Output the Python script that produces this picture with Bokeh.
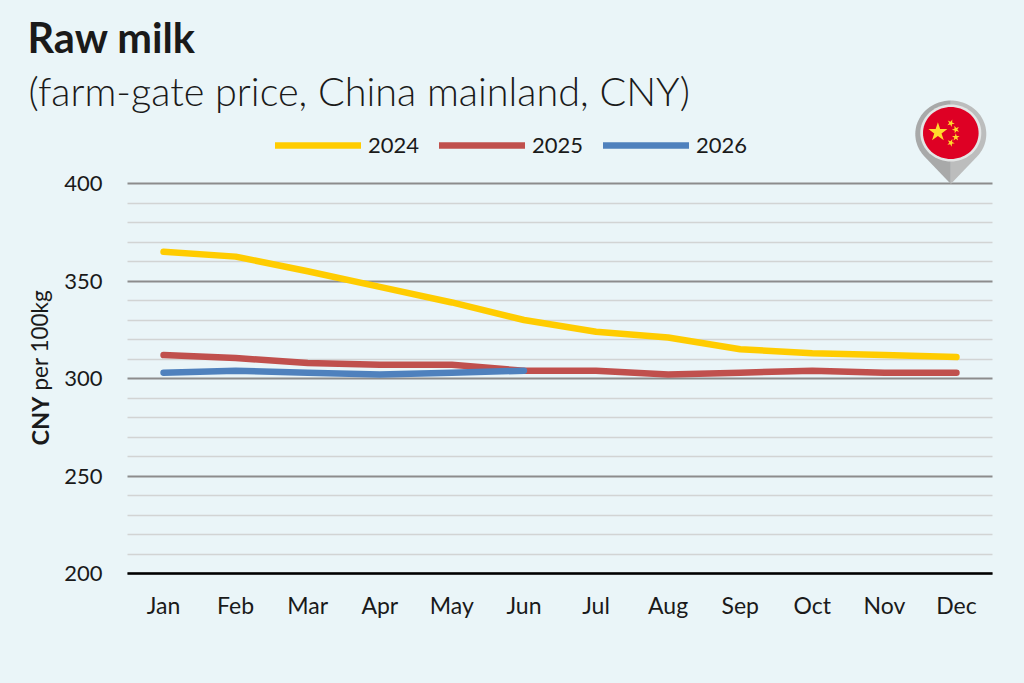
import math
from bokeh.plotting import figure
from bokeh.models import Label, Legend, LegendItem, PolyAnnotation, Range1d, FixedTicker, Grid
from bokeh.embed import file_html
from bokeh.resources import INLINE

months = ["Jan", "Feb", "Mar", "Apr", "May", "Jun", "Jul", "Aug", "Sep", "Oct", "Nov", "Dec"]
y2024 = [365, 362.5, 355, 347, 339, 330, 324, 321, 315, 313, 312, 311]
y2025 = [312, 310.5, 308, 307, 307, 304, 304, 302, 303, 304, 303, 303]
y2026 = [303, 304, 303, 302, 303, 304]
major_ticks = [200, 250, 300, 350, 400]
minor_ticks = [210, 220, 230, 240, 260, 270, 280, 290, 310, 320, 330, 340, 360, 370, 380, 390]
title_text = "Raw milk"
subtitle_text = "(farm-gate price, China mainland, CNY)"

BG = "#EAF5F8"
FONT = "Lato"
INK = "#1a1a1a"

W, H = 1008, 667
FRAME_H = 617
PX_X = 865 / 12
PX_Y = 1.95
pos = list(range(len(months)))
# The frame fills the figure, so texts and the pin outside the plot area are not clipped.
y_start = 200 - (FRAME_H - 565) / PX_Y
p = figure(width=W, height=H,
           x_range=Range1d(-0.5 - 119 / PX_X, 11.5 + 24 / PX_X),
           y_range=Range1d(y_start, y_start + FRAME_H / PX_Y),
           y_axis_location=None,
           output_backend="svg", toolbar_location=None,
           min_border_left=0, min_border_right=0, min_border_top=0, min_border_bottom=H - FRAME_H)
p.background_fill_color = BG
p.border_fill_color = BG
p.outline_line_color = None
p.grid.visible = False

tick = FixedTicker(ticks=major_ticks, minor_ticks=minor_ticks)
grid = Grid(dimension=1, ticker=tick, grid_line_color="#8c8c8c", grid_line_width=2,
            minor_grid_line_color="#d2d4d4", minor_grid_line_width=1.5)
if hasattr(grid, "cross_bounds"):
    grid.cross_bounds = (-0.5, 11.5)
    p.add_layout(grid)
else:
    p.segment([-0.5] * len(major_ticks), major_ticks, [11.5] * len(major_ticks), major_ticks,
              line_color="#8c8c8c", line_width=2, level="underlay")
    p.segment([-0.5] * len(minor_ticks), minor_ticks, [11.5] * len(minor_ticks), minor_ticks,
              line_color="#d2d4d4", line_width=1.5, level="underlay")

p.xaxis.ticker = FixedTicker(ticks=pos)
p.xaxis.major_label_overrides = dict(zip(pos, months))
p.xaxis.bounds = (-0.5, 11.5)
p.xaxis.fixed_location = 200
p.xaxis.axis_line_color = "#000000"
p.xaxis.axis_line_width = 2.5
p.xaxis.major_tick_line_color = None
p.xaxis.minor_tick_line_color = None
p.xaxis.major_label_standoff = 11
p.xaxis.major_label_text_font = FONT
p.xaxis.major_label_text_font_size = "23px"
p.xaxis.major_label_text_color = INK

for t in major_ticks:
    p.add_layout(Label(x=-0.5, y=t, x_offset=-25, text=str(t), text_align="right", text_baseline="middle",
                       text_font=FONT, text_font_size="22px", text_color=INK))

LW = 6.5
r1 = p.line(pos, y2024, line_color="#FFCC00", line_width=LW, line_cap="round", line_join="round")
r2 = p.line(pos, y2025, line_color="#C0504D", line_width=LW, line_cap="round", line_join="round")
r3 = p.line(pos[:len(y2026)], y2026, line_color="#4F81BD", line_width=LW, line_cap="round", line_join="round")

legend = Legend(items=[LegendItem(label="2024", renderers=[r1]),
                       LegendItem(label="2025", renderers=[r2]),
                       LegendItem(label="2026", renderers=[r3])],
                orientation="horizontal", location=(267, FRAME_H - 150),
                background_fill_alpha=0, border_line_color=None, margin=0, padding=0,
                glyph_width=86, glyph_height=24, label_standoff=7, spacing=20, label_width=51,
                label_text_font=FONT, label_text_font_size="22px", label_text_color=INK,
                label_text_baseline="middle")
p.add_layout(legend, "center")


def text(x, y, s, size, style="normal", angle=0, font=FONT):
    p.add_layout(Label(x=x - 8, y=FRAME_H - (y - 8), x_units="screen", y_units="screen", text=s, text_font=font,
                       text_font_size=size, text_font_style=style, text_color=INK, angle=angle,
                       angle_units="deg", text_baseline="alphabetic", text_align="left"))


text(27, 36, title_text, "41.5px", "bold")
text(28, 90, subtitle_text, "39.6px", font="Lato Light")
text(39, 445, "CNY", "23.5px", "bold", angle=90)
text(39, 390, "per 100kg", "22.5px", angle=90)


def poly(xs, ys, color):
    p.add_layout(PolyAnnotation(xs=[x - 8 for x in xs], ys=[FRAME_H - (y - 8) for y in ys],
                                xs_units="screen", ys_units="screen",
                                fill_color=color, fill_alpha=1, line_color=None))


def ellipse(cx, cy, rx, ry, color):
    n = 72
    poly([cx + rx * math.cos(2 * math.pi * i / n) for i in range(n)],
         [cy + ry * math.sin(2 * math.pi * i / n) for i in range(n)], color)


def star(cx, cy, r, color, rot=0.0):
    pts = [(r if i % 2 == 0 else r * 0.382, -math.pi / 2 + rot + i * math.pi / 5) for i in range(10)]
    poly([cx + a * math.cos(t) for a, t in pts], [cy + a * math.sin(t) for a, t in pts], color)


cx, cy, rx, ry, tip = 950.3, 133.5, 35.5, 33.5, 183.5
a0 = math.acos(ry / (tip - cy))
left_a = [math.pi / 2 + a0 + i * (math.pi - a0) / 40 for i in range(41)]
poly([cx] + [cx + rx * math.cos(t) for t in left_a], [tip] + [cy + ry * math.sin(t) for t in left_a], "#a8a9a9")
poly([cx] + [cx - rx * math.cos(t) for t in left_a], [tip] + [cy + ry * math.sin(t) for t in left_a], "#bcbdbd")
ellipse(cx, 132.5, 30.5, 28.5, "#e3e6e6")
ellipse(cx, 132.5, 27.8, 26, "#DE0024")
star(937.4, 131.7, 10, "#FFDA2C")
star(950.3, 122.7, 4, "#FFDA2C", 0.4)
star(955.3, 129.0, 4, "#FFDA2C", 0.9)
star(955.3, 136.7, 4, "#FFDA2C", 0.0)
star(950.3, 142.3, 4, "#FFDA2C", 0.4)

html = file_html(p, INLINE)
html = html.replace("<head>", f"<head><style>html,body{{background:{BG};overflow:hidden;margin:0;padding:0}}body{{margin:8px !important}}</style>", 1)
open("out.html", "w").write(html)
